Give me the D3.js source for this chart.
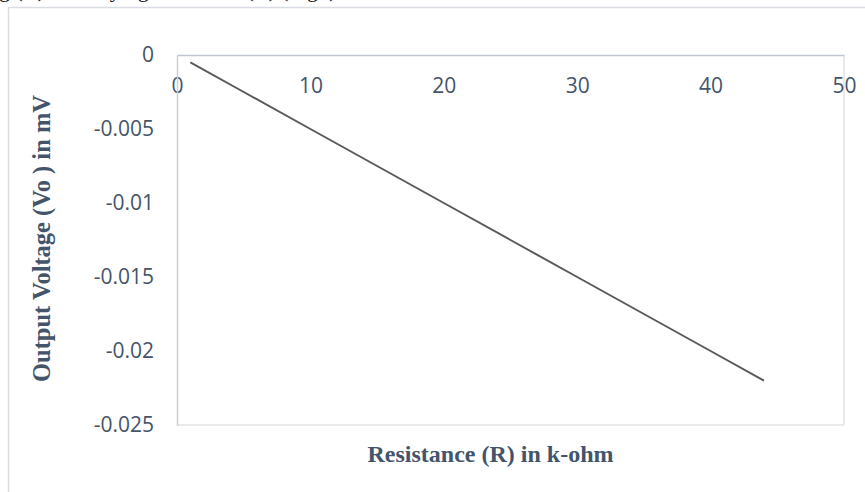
<!DOCTYPE html>
<html>
<head>
<meta charset="utf-8">
<script src="https://cdn.jsdelivr.net/npm/d3@7"></script>
<style>
html,body{margin:0;padding:0;background:#fff;}
svg{display:block;}
</style>
</head>
<body>
<svg id="chart" width="865" height="492"></svg>
<script>
const resistance = [1, 5, 10, 15, 20, 25, 30, 35, 40, 44];
const voltage = [-0.0005, -0.0025, -0.005, -0.0075, -0.01, -0.0125, -0.015, -0.0175, -0.02, -0.022];
const xTicks = [0, 10, 20, 30, 40, 50];
const yTicks = [0, -0.005, -0.01, -0.015, -0.02, -0.025];
const xTitle = "Resistance (R) in k-ohm";
const yTitle = "Output Voltage (Vo ) in mV";
const caption = "ing (R) for varying resistance (R) (Fig. )";

const svg = d3.select("#chart");
const W = 865, H = 492;
const m = {left: 177, top: 55, right: 844, bottom: 425};
const labelColor = "#44546A";

// caption fragment cut at the top
svg.append("text")
  .attr("x", -18).attr("y", -3)
  .attr("font-family", "Liberation Serif")
  .attr("font-size", 22)
  .attr("fill", "#111")
  .text(caption);

// outer chart frame
svg.append("rect")
  .attr("x", 8.5).attr("y", 7.5)
  .attr("width", W + 20).attr("height", H + 20)
  .attr("fill", "none").attr("stroke", "#D9DDE3").attr("stroke-width", 1.5);

const x = d3.scaleLinear().domain([0, 50]).range([m.left, m.right]);
const y = d3.scaleLinear().domain([-0.025, 0]).range([m.bottom, m.top]);

// plot area border (right & bottom lighter)
svg.append("line").attr("x1", m.right).attr("x2", m.right).attr("y1", m.top).attr("y2", m.bottom)
  .attr("stroke", "#E3E3E3").attr("stroke-width", 1.5);
svg.append("line").attr("x1", m.left).attr("x2", m.right).attr("y1", m.bottom).attr("y2", m.bottom)
  .attr("stroke", "#E3E3E3").attr("stroke-width", 1.5);

// x axis at y=0 (top)
const xAxis = svg.append("g")
  .attr("transform", `translate(0,${y(0)})`)
  .call(d3.axisBottom(x).tickValues(xTicks).tickSize(0).tickPadding(23).tickFormat(d3.format("d")));
xAxis.select(".domain").attr("stroke", "#BFC6D2").attr("stroke-width", 1.5);
xAxis.selectAll("text").attr("font-family", "Open Sans").attr("font-size", 21).attr("fill", labelColor);

// y axis at x=0 (left)
const yAxis = svg.append("g")
  .attr("transform", `translate(${x(0)},0)`)
  .call(d3.axisLeft(y).tickValues(yTicks).tickSize(0).tickPadding(23).tickFormat(d => d === 0 ? "0" : String(d)));
yAxis.select(".domain").attr("stroke", "#C9CED8").attr("stroke-width", 1.5);
yAxis.selectAll("text").attr("font-family", "Open Sans").attr("font-size", 21).attr("fill", labelColor);

// data line
const data = resistance.map((r, i) => ({r, v: voltage[i]}));
svg.append("path")
  .datum(data)
  .attr("fill", "none")
  .attr("stroke", "#595959")
  .attr("stroke-width", 2)
  .attr("d", d3.line().x(d => x(d.r)).y(d => y(d.v)));

// axis titles
svg.append("text")
  .attr("x", 490.5).attr("y", 462)
  .attr("text-anchor", "middle")
  .attr("font-family", "Liberation Serif").attr("font-weight", "bold")
  .attr("font-size", 24).attr("fill", labelColor)
  .text(xTitle);

svg.append("text")
  .attr("transform", "translate(50,238.5) rotate(-90)")
  .attr("text-anchor", "middle")
  .attr("font-family", "Liberation Serif").attr("font-weight", "bold")
  .attr("font-size", 24.5).attr("fill", labelColor)
  .text(yTitle);
</script>
</body>
</html>
